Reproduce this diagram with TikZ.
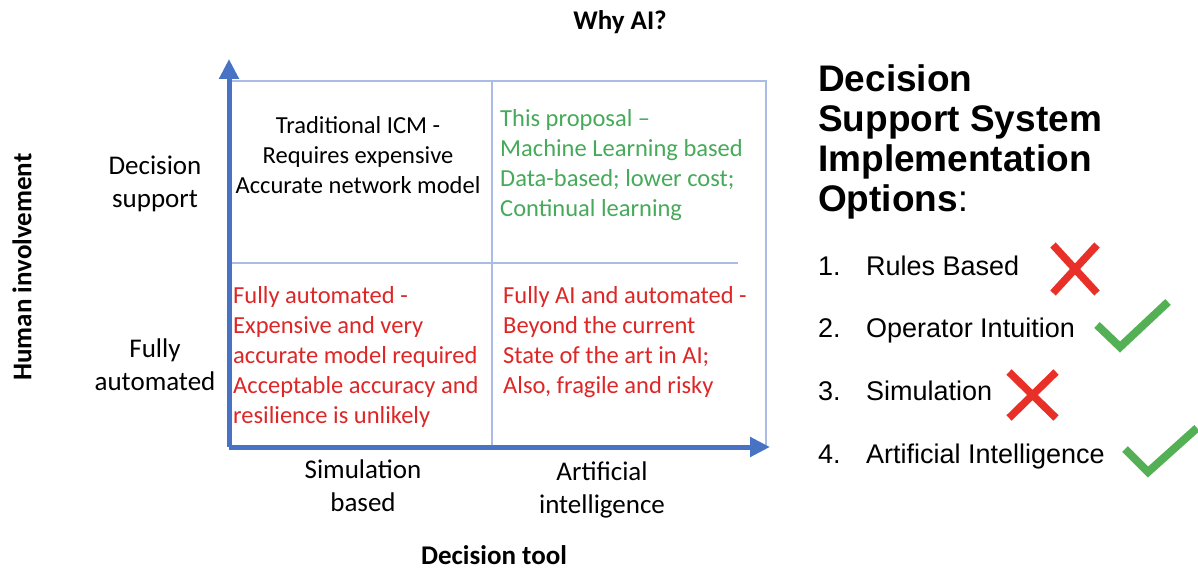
\documentclass[tikz,border=0pt]{standalone}
\usepackage{fontspec}
\setmainfont{Carlito}
\newfontfamily\arialf{Liberation Sans}
\usetikzlibrary{arrows.meta}
\definecolor{axisblue}{RGB}{72,114,196}
\definecolor{gridblue}{RGB}{170,188,230}
\definecolor{qred}{RGB}{222,38,38}
\definecolor{qgreen}{RGB}{70,170,90}
\definecolor{xred}{RGB}{232,48,40}
\definecolor{ckgreen}{RGB}{84,176,84}
\tikzset{
  axisline/.style={draw=axisblue,line width=5pt,-{Triangle[length=20pt,width=19pt]}},
  gridline/.style={draw=gridblue,line width=1.2pt},
  qtext/.style={inner sep=0pt,font=\fontsize{24.5}{30}\selectfont},
  axlabel/.style={inner sep=0pt,align=center,font=\fontsize{27}{33}\selectfont},
  bigbold/.style={inner sep=0pt,font=\fontsize{27}{33}\selectfont\bfseries},
  rtitle/.style={inner sep=0pt,align=left,font=\arialf\fontsize{37}{40}\selectfont\bfseries},
  litem/.style={inner sep=0pt,anchor=base west,font=\arialf\fontsize{27}{30}\selectfont},
  crossmark/.style={draw=xred,line width=7.5pt},
  checkmark/.style={draw=ckgreen,line width=8pt,line join=miter}
}
\begin{document}
\begin{tikzpicture}[x=1pt,y=-1pt]
\useasboundingbox[fill=white] (0,0) rectangle (1198,572);
% grid
\coordinate (o) at (229,447);
\coordinate (ytip) at (229,59);
\coordinate (xtip) at (770,447);
\draw[gridline] (229,81) -- (766,81) -- (766,447);
\draw[gridline] (492,81) -- (492,447);
\draw[gridline] (229,263) -- (738,263);
% axes
\draw[axisline] (o) -- (ytip);
\draw[axisline] (o) -- (xtip);
% quadrant texts
\node[qtext,align=center] (tl) at (358,155) {Traditional ICM -\\Requires expensive\\Accurate network model};
\node[qtext,align=left,anchor=west,text=qgreen] (tr) at (500,165) {This proposal --\\Machine Learning based\\Data-based; lower cost;\\Continual learning};
\node[qtext,align=left,anchor=west,text=qred] (bl) at (233,357) {Fully automated -\\Expensive and very\\accurate model required\\Acceptable accuracy and\\resilience is unlikely};
\node[qtext,align=left,anchor=west,text=qred] (br) at (503,342) {Fully AI and automated -\\Beyond the current\\State of the art in AI;\\Also, fragile and risky};
% axis labels
\node[axlabel] (ds) at (155,184) {Decision\\support};
\node[axlabel] (fa) at (155,365) {Fully\\automated};
\node[axlabel] (sb) at (363,486) {Simulation\\based};
\node[axlabel] (ai) at (602,490) {Artificial\\intelligence};
\node[bigbold] (dt) at (494,555) {Decision tool};
\node[bigbold,rotate=90] (hi) at (22,267) {Human involvement};
\node[bigbold] (why) at (620,22) {Why AI?};
% right side
\node[rtitle,anchor=north west] (title) at (818,64) {Decision\\Support System\\Implementation\\Options\textmd{:}};
\node[litem] (n1) at (818,275) {1.};
\node[litem] (t1) at (866,275) {Rules Based};
\node[litem] (n2) at (818,337) {2.};
\node[litem] (t2) at (866,337) {Operator Intuition};
\node[litem] (n3) at (818,400) {3.};
\node[litem] (t3) at (866,400) {Simulation};
\node[litem] (n4) at (818,463) {4.};
\node[litem] (t4) at (866,463) {Artificial Intelligence};
% marks
\draw[crossmark] (1053,245) -- (1097,293);
\draw[crossmark] (1053,293) -- (1097,245);
\draw[crossmark] (1009,372) -- (1056,418);
\draw[crossmark] (1009,418) -- (1056,372);
\draw[checkmark] (1097,325) -- (1120,347) -- (1168,302);
\draw[checkmark] (1125,449) -- (1148,472) -- (1197,428);
\end{tikzpicture}
\end{document}
